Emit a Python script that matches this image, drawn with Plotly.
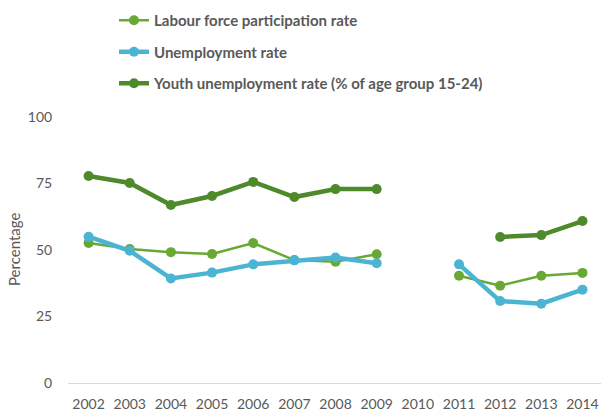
import plotly.graph_objects as go

years = [2002, 2003, 2004, 2005, 2006, 2007, 2008, 2009, 2010, 2011, 2012, 2013, 2014]
lfpr = [52.6, 50.4, 49.2, 48.5, 52.6, 46.2, 45.6, 48.4, None, 40.3, 36.6, 40.3, 41.4]
unemp = [55.0, 49.7, 39.3, 41.5, 44.6, 46.1, 47.2, 45.0, None, 44.6, 30.8, 29.8, 35.1]
youth = [77.8, 75.2, 66.9, 70.3, 75.6, 69.9, 72.9, 72.9, None, None, 54.9, 55.6, 60.9]
names = ["Labour force participation rate", "Unemployment rate",
         "Youth unemployment rate (% of age group 15-24)"]
y_ticks = [0, 25, 50, 75, 100]
y_title = "Percentage"

colors = ["#68a935", "#4bb4d3", "#4e8a2b"]
widths = [2.5, 4.5, 4.5]

fig = go.Figure()
for i, (name, vals) in enumerate(zip(names, [lfpr, unemp, youth])):
    fig.add_trace(go.Scatter(
        x=years, y=vals, name=name, mode="lines+markers",
        line=dict(color=colors[i], width=widths[i]),
        marker=dict(color=colors[i], size=10),
        connectgaps=False, legendgroup=str(i),
    ))

font_color = "#595959"
fig.update_layout(
    width=601, height=414,
    margin=dict(l=68, r=0, t=117, b=31, autoexpand=False),
    paper_bgcolor="white", plot_bgcolor="white",
    font=dict(family="Lato, Open Sans, sans-serif", size=13, color=font_color),
    showlegend=True,
    legend=dict(
        xref="container", yref="container", x=114 / 601, y=1 - 4 / 414,
        xanchor="left", yanchor="top",
        font=dict(size=15, color=font_color, family="Lato, sans-serif", weight="bold"),
        tracegroupgap=9, bgcolor="rgba(0,0,0,0)",
    ),
    xaxis=dict(
        range=[2001.5, 2014.45], tickmode="array", tickvals=years,
        ticktext=[str(y) for y in years], showgrid=False, zeroline=False,
        showline=False, ticks="outside", ticklen=8, tickcolor="rgba(0,0,0,0)",
        tickfont=dict(size=14, color=font_color),
    ),
    yaxis=dict(
        range=[0, 100], tickmode="array", tickvals=y_ticks, showgrid=False,
        zeroline=True, zerolinecolor="#d9d9d9", zerolinewidth=1,
        showline=False, ticks="outside", ticklen=12, tickcolor="rgba(0,0,0,0)",
        tickfont=dict(size=14, color=font_color),
    ),
    annotations=[dict(
        text=y_title, xref="paper", yref="paper", x=(14 - 68) / 533, y=0.5,
        xanchor="center", yanchor="middle", textangle=-90, showarrow=False,
        font=dict(size=15, color=font_color),
    )],
)

fig.write_html("out.html")
